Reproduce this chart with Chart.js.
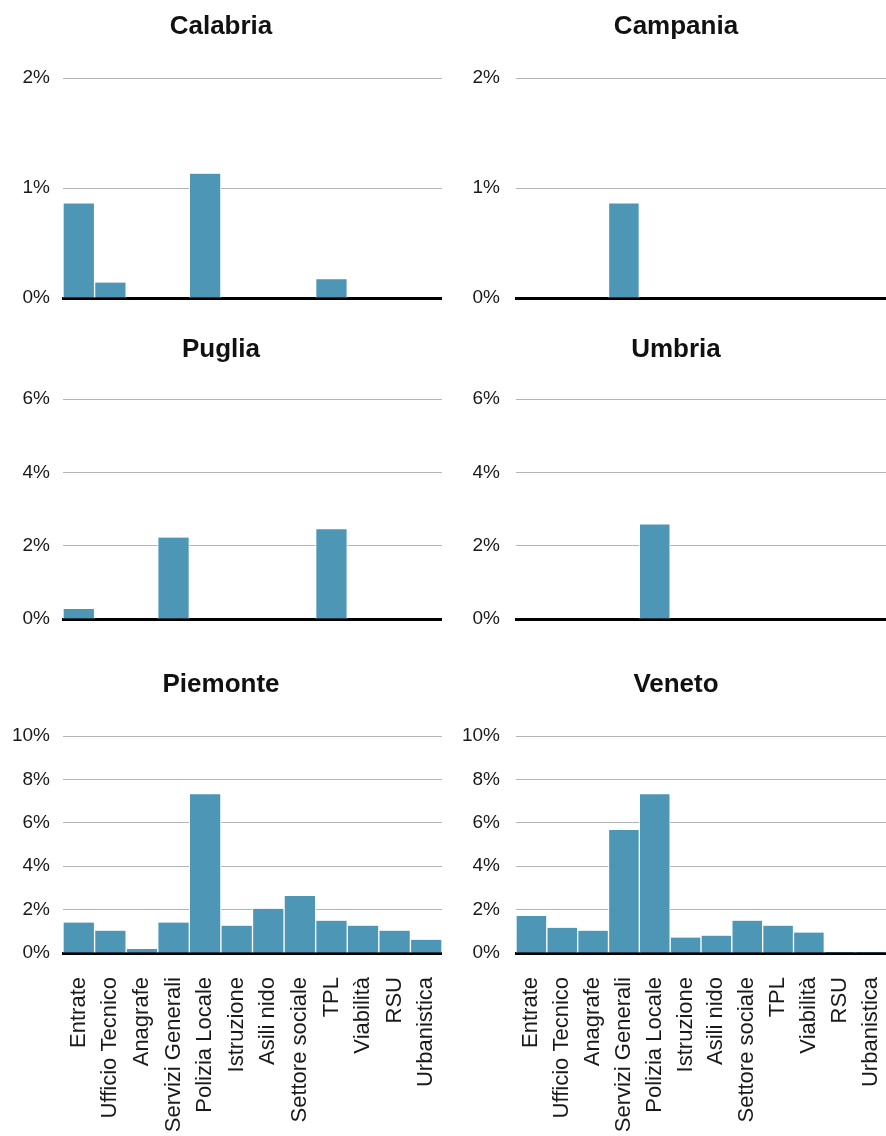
<!DOCTYPE html>
<html lang="it">
<head>
<meta charset="utf-8">
<title>Quota per funzione – sei regioni</title>
<script src="https://cdn.jsdelivr.net/npm/chart.js@4/dist/chart.umd.min.js"></script>
<style>
  html, body { margin: 0; padding: 0; background: #fff; }
  #tavola { position: relative; width: 886px; height: 1136px; overflow: hidden; }
  #tavola canvas { position: absolute; }
</style>
</head>
<body>
<div id="tavola">
  <canvas id="c-calabria"></canvas>
  <canvas id="c-campania"></canvas>
  <canvas id="c-puglia"></canvas>
  <canvas id="c-umbria"></canvas>
  <canvas id="c-piemonte"></canvas>
  <canvas id="c-veneto"></canvas>
</div>
<script>
/* Dati (valori in %). */
const FUNZIONI = [
  'Entrate', 'Ufficio Tecnico', 'Anagrafe', 'Servizi Generali', 'Polizia Locale',
  'Istruzione', 'Asili nido', 'Settore sociale', 'TPL', 'Viabilità', 'RSU', 'Urbanistica',
];

const CALABRIA = [0.86, 0.14, 0, 0, 1.13, 0, 0, 0, 0.17, 0, 0, 0];
const CAMPANIA = [0, 0, 0, 0.86, 0, 0, 0, 0, 0, 0, 0, 0];
const PUGLIA   = [0.27, 0, 0, 2.22, 0, 0, 0, 0, 2.45, 0, 0, 0];
const UMBRIA   = [0, 0, 0, 0, 2.58, 0, 0, 0, 0, 0, 0, 0];
const PIEMONTE = [1.4, 1.03, 0.18, 1.4, 7.32, 1.26, 2.04, 2.63, 1.49, 1.26, 1.03, 0.61];
const VENETO   = [1.71, 1.16, 1.03, 5.67, 7.32, 0.71, 0.8, 1.49, 1.26, 0.94, 0.05, 0.05];

// Massimo e passo dell'asse y per ogni riga di pannelli.
const MAX_RIGA  = [2, 6, 10];
const PASSO_RIGA = [1, 2, 2];

/* ── Stile ───────────────────────────────────────────── */

const COLORE_BARRA = '#4d96b5';
const FONT = '"Liberation Sans", Arial, Helvetica, sans-serif';

Chart.defaults.font.family = FONT;
Chart.defaults.color = '#1a1a1a';
Chart.defaults.animation = false;

// Geometria delle colonne. La colonna destra parte da 456 perché "10%" sporge
// a sinistra; il titolo viene poi spostato per restare centrato sul pannello.
const COLONNE = [
  { left: 0,   width: 442, asseY: 63, gap: 13, spostaTitolo: 0 },
  { left: 456, width: 430, asseY: 60, gap: 16, spostaTitolo: 10 },
];
// Righe: posizione del canvas e spazi del titolo.
const RIGHE = [
  { top: 0,   height: 314, titoloSopra: 11.4, titoloSotto: 35.4, fondo: 16, asseX: 0 },
  { top: 310, height: 325, titoloSopra: 24.4, titoloSotto: 33.4, fondo: 16, asseX: 0 },
  { top: 640, height: 496, titoloSopra: 29.4, titoloSotto: 35.4, fondo: 0,  asseX: 183 },
];

// Chart.js aggiunge margini per le etichette che sporgono: qui la geometria è
// fissa, quindi si azzerano dopo il calcolo.
function senzaMargini(s) {
  s.paddingLeft = 0; s.paddingRight = 0; s.paddingTop = 0; s.paddingBottom = 0;
}

function pannello(id, titolo, valori, riga, colonna) {
  const r = RIGHE[riga], c = COLONNE[colonna];
  const tela = document.getElementById(id);
  tela.width = c.width;
  tela.height = r.height;
  tela.style.left = c.left + 'px';
  tela.style.top = r.top + 'px';

  const conEtichette = riga === 2;

  const centraTitolo = {
    id: 'centraTitolo',
    afterLayout(chart) {
      if (chart.titleBlock) chart.titleBlock.left += c.spostaTitolo;
    },
  };

  return new Chart(tela, {
    type: 'bar',
    data: {
      labels: FUNZIONI,
      datasets: [{
        data: valori,
        backgroundColor: COLORE_BARRA,
        borderColor: '#ffffff',
        borderWidth: { left: 1, right: 1, top: 0, bottom: 0 },
        borderSkipped: false,
        categoryPercentage: 1,
        barPercentage: 1,
      }],
    },
    plugins: [centraTitolo],
    options: {
      responsive: false,
      devicePixelRatio: 1,
      layout: { padding: { top: 0, right: 0, left: 0, bottom: r.fondo } },
      plugins: {
        legend: { display: false },
        tooltip: { enabled: false },
        title: {
          display: true,
          text: titolo,
          color: '#111',
          font: { family: FONT, size: 26, weight: 'bold', lineHeight: 1.2 },
          padding: { top: r.titoloSopra, bottom: r.titoloSotto },
        },
      },
      scales: {
        x: {
          grid: { display: false, drawTicks: false, tickLength: 0 },
          border: { display: true, color: '#000', width: 3 },
          ticks: {
            display: conEtichette,
            autoSkip: false,
            minRotation: 90,
            maxRotation: 90,
            padding: 24,
            color: '#1a1a1a',
            font: { size: 22 },
          },
          afterFit: (s) => { s.height = r.asseX; senzaMargini(s); },
        },
        y: {
          min: 0,
          max: MAX_RIGA[riga],
          grid: { color: '#b4b4b4', lineWidth: 1, drawTicks: false, tickLength: 0 },
          border: { display: false },
          ticks: {
            stepSize: PASSO_RIGA[riga],
            padding: c.gap,
            color: '#1a1a1a',
            font: { size: 19 },
            callback: (v) => v + '%',
          },
          afterFit: (s) => { s.width = c.asseY; senzaMargini(s); },
        },
      },
    },
  });
}

pannello('c-calabria', 'Calabria', CALABRIA, 0, 0);
pannello('c-campania', 'Campania', CAMPANIA, 0, 1);
pannello('c-puglia',   'Puglia',   PUGLIA,   1, 0);
pannello('c-umbria',   'Umbria',   UMBRIA,   1, 1);
pannello('c-piemonte', 'Piemonte', PIEMONTE, 2, 0);
pannello('c-veneto',   'Veneto',   VENETO,   2, 1);
</script>
</body>
</html>
